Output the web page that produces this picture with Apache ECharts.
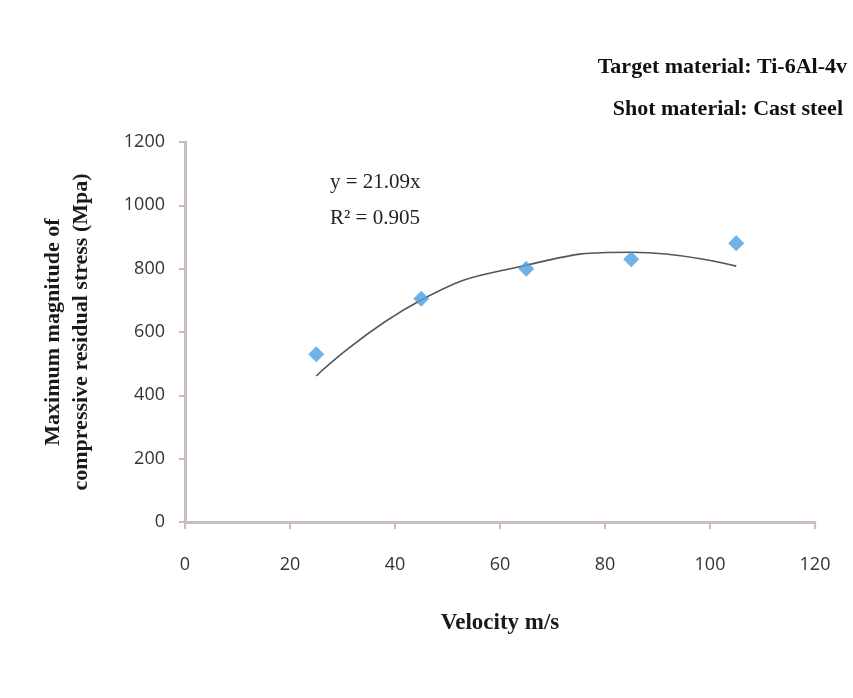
<!DOCTYPE html>
<html><head><meta charset="utf-8">
<script src="https://cdn.jsdelivr.net/npm/echarts@6/dist/echarts.min.js"></script>
<style>html,body{margin:0;padding:0;background:#fff}#c{width:853px;height:698px}</style>
</head><body><div id="c"></div>
<script>
const velocity = [25, 45, 65, 85, 105];
const stress = [530, 705, 800, 830, 880];
const trendX = [25, 45, 65, 85, 105];
const trendY = [461, 701, 811, 852, 808];
const xTicks = {min: 0, max: 120, interval: 20};
const yTicks = {min: 0, max: 1200, interval: 200};
const equationText = 'y = 21.09x';
const r2Text = 'R² = 0.905';
const infoLines = ['Target material: Ti-6Al-4v', 'Shot material: Cast steel'];

const chart = echarts.init(document.getElementById('c'));
const axisCol = '#c9bcc4';
chart.setOption({
  animation: false,
  backgroundColor: '#fff',
  grid: {left: 185, right: 38, top: 142, bottom: 176},
  xAxis: {
    type: 'value', min: xTicks.min, max: xTicks.max, interval: xTicks.interval,
    name: 'Velocity m/s', nameLocation: 'middle', nameGap: 90,
    nameTextStyle: {fontFamily: 'Liberation Serif', fontWeight: 'bold', fontSize: 23, color: '#1a1a1a'},
    axisLine: {show: true, lineStyle: {color: axisCol, width: 3}},
    axisTick: {show: true, length: 7, lineStyle: {color: axisCol, width: 2}},
    axisLabel: {margin: 34, fontFamily: 'Open Sans', fontSize: 18, color: '#333'},
    splitLine: {show: false}
  },
  yAxis: {
    type: 'value', min: yTicks.min, max: yTicks.max, interval: yTicks.interval,
    name: 'Maximum magnitude of\ncompressive residual stress (Mpa)', nameLocation: 'middle', nameGap: 90,
    nameTextStyle: {fontFamily: 'Liberation Serif', fontWeight: 'bold', fontSize: 22, color: '#1a1a1a', lineHeight: 28},
    axisLine: {show: true, lineStyle: {color: axisCol, width: 3}},
    axisTick: {show: true, length: 6, lineStyle: {color: axisCol, width: 2}},
    axisLabel: {margin: 20, fontFamily: 'Open Sans', fontSize: 18, color: '#333', formatter: v => String(v)},
    splitLine: {show: false}
  },
  series: [
    {
      type: 'line', data: trendX.map((x, i) => [x, trendY[i]]), smooth: true,
      showSymbol: false, lineStyle: {color: '#555', width: 1.6}, z: 2
    },
    {
      type: 'scatter', data: velocity.map((x, i) => [x, stress[i]]),
      symbol: 'diamond', symbolSize: 16, itemStyle: {color: '#4b9de3'}, z: 3
    }
  ],
  graphic: [
    {type: 'text', left: 330, top: 172, style: {text: equationText, font: '21px "Liberation Serif"', fill: '#222'}},
    {type: 'text', left: 330, top: 208, style: {text: r2Text, font: '21px "Liberation Serif"', fill: '#222'}},
    {type: 'text', right: 6, top: 56, style: {text: infoLines[0], font: 'bold 22px "Liberation Serif"', fill: '#111', align: 'right'}},
    {type: 'text', right: 10, top: 98, style: {text: infoLines[1], font: 'bold 22px "Liberation Serif"', fill: '#111', align: 'right'}}
  ]
});
</script></body></html>
